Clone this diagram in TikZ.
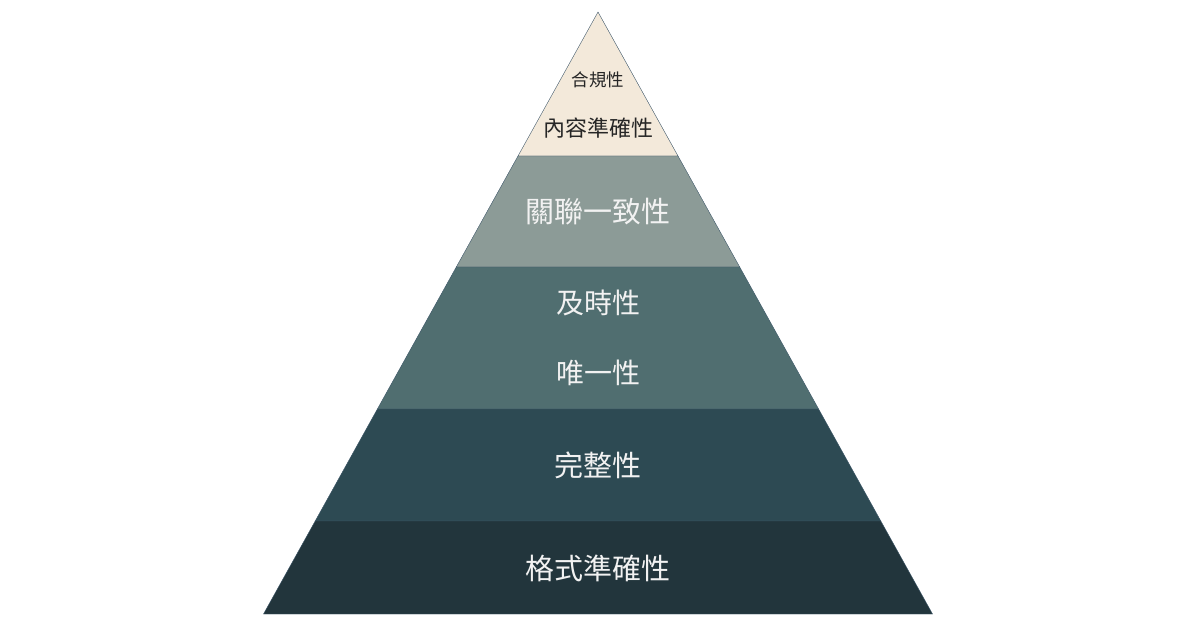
\documentclass[tikz,border=0pt]{standalone}
\usepackage{fontspec}
\newfontfamily\cjk{Noto Sans CJK TC}
\definecolor{layerA}{HTML}{F3E9DA}
\definecolor{layerB}{HTML}{8C9B97}
\definecolor{layerC}{HTML}{506E70}
\definecolor{layerD}{HTML}{2D4A53}
\definecolor{layerE}{HTML}{22353C}
\definecolor{edge}{HTML}{3E5769}
\definecolor{lighttext}{HTML}{F2F2F2}

\begin{document}
\begin{tikzpicture}[x=1pt,y=-1pt]
\useasboundingbox (0,0) rectangle (1200,630);
\filldraw[fill=layerA,draw=edge,thin] (598,12) -- (678,156) -- (518,156) -- cycle;
\filldraw[fill=layerB,draw=edge,thin] (518,156) -- (678,156) -- (739.7,267) -- (456.3,267) -- cycle;
\filldraw[fill=layerC,draw=edge,thin] (456.3,267) -- (739.7,267) -- (818.6,409) -- (377.4,409) -- cycle;
\filldraw[fill=layerD,draw=edge,thin] (377.4,409) -- (818.6,409) -- (880.8,521) -- (315.2,521) -- cycle;
\filldraw[fill=layerE,draw=edge,thin] (315.2,521) -- (880.8,521) -- (932.5,614) -- (263.5,614) -- cycle;
\node[text=black!85,font=\cjk\fontsize{17.5}{20}\selectfont] (compliance) at (598,80) {合規性};
\node[text=black!85,font=\cjk\fontsize{22}{26}\selectfont] (content) at (598,128) {內容準確性};
\node[text=lighttext,font=\cjk\fontsize{29}{32}\selectfont] (relation) at (598,212) {關聯一致性};
\node[text=lighttext,font=\cjk\fontsize{28}{32}\selectfont] (timely) at (598,303) {及時性};
\node[text=lighttext,font=\cjk\fontsize{28}{32}\selectfont] (unique) at (598,373) {唯一性};
\node[text=lighttext,font=\cjk\fontsize{29}{32}\selectfont] (complete) at (598,465) {完整性};
\node[text=lighttext,font=\cjk\fontsize{29}{32}\selectfont] (format) at (598,568) {格式準確性};
\end{tikzpicture}
\end{document}
